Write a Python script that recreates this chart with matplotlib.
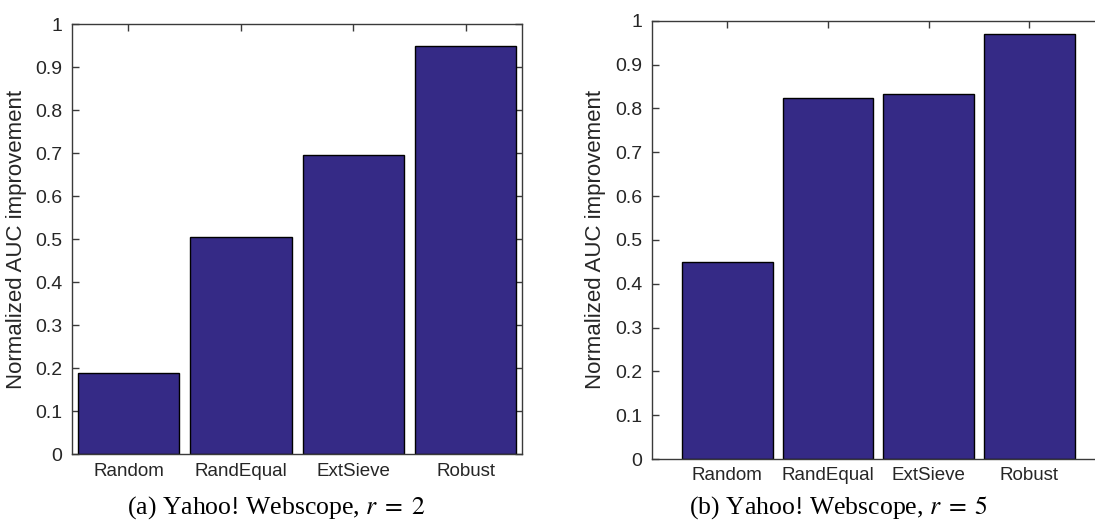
import matplotlib
matplotlib.use('Agg')
import matplotlib.pyplot as plt
import numpy as np

plt.rcParams['font.family'] = ['Liberation Sans', 'DejaVu Sans']
plt.rcParams['mathtext.fontset'] = 'stix'

methods = ['Random', 'RandEqual', 'ExtSieve', 'Robust']
auc_r2 = [0.19, 0.505, 0.695, 0.949]
auc_r5 = [0.449, 0.823, 0.833, 0.970]
yticks = np.arange(0, 1.01, 0.1)
ytick_labels = ['0', '0.1', '0.2', '0.3', '0.4', '0.5', '0.6', '0.7', '0.8', '0.9', '1']

bar_color = '#352a86'
axis_color = '#3a3a3a'
text_color = '#262626'


def draw_panel(ax, values, xlim):
    x = np.arange(1, len(values) + 1)
    ax.bar(x, values, width=0.9, color=bar_color, edgecolor='black',
           linewidth=1.0, zorder=2)
    ax.set_xlim(*xlim)
    ax.set_ylim(0, 1)
    ax.set_xticks(x)
    ax.set_xticklabels(methods)
    ax.set_yticks(yticks)
    ax.set_yticklabels(ytick_labels)
    ax.tick_params(direction='in', length=5, width=1, color=axis_color,
                   labelcolor=text_color, top=True, right=True)
    ax.tick_params(axis='y', labelsize=14, pad=7)
    ax.tick_params(axis='x', labelsize=13.5, pad=6)
    for s in ax.spines.values():
        s.set_color(axis_color)
        s.set_linewidth(1.0)
    ax.set_ylabel('Normalized AUC improvement', fontsize=16,
                  color=text_color, labelpad=6)


fig = plt.figure(figsize=(10.95, 5.29), dpi=100)

ax1 = fig.add_axes([0.066, 0.1412, 0.4107, 0.8134])
draw_panel(ax1, auc_r2, (0.5, 4.5))

ax2 = fig.add_axes([0.5952, 0.1323, 0.4139, 0.8285])
draw_panel(ax2, auc_r5, (0.25, 4.75))

fig.text(0.252, 0.041, '(a) Yahoo! Webscope, $r\\;=\\;2$', ha='center',
         va='center', fontsize=18.5, family='Liberation Serif', color='black')
fig.text(0.766, 0.041, '(b) Yahoo! Webscope, $r\\;=\\;5$', ha='center',
         va='center', fontsize=18.5, family='Liberation Serif', color='black')

fig.savefig('out.png', dpi=100)
